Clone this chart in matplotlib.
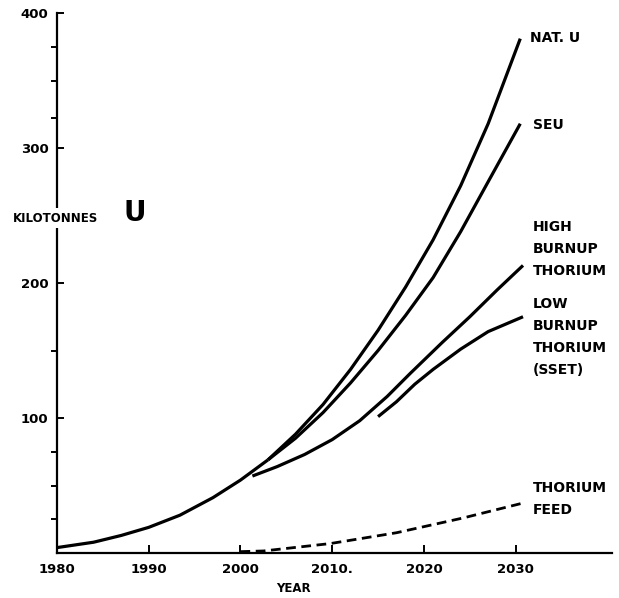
import matplotlib
matplotlib.use('Agg')
import matplotlib.pyplot as plt

# values (kilotonnes U per year)
common_years = [1980, 1984, 1987, 1990, 1993.4, 1997, 2000, 2003]
common_vals = [4, 8, 13, 19, 28, 41, 54, 69]

natu_years = [2003, 2006, 2009, 2012, 2015, 2018, 2021, 2024, 2027, 2030.5]
natu_vals = [69, 88, 110, 136, 165, 197, 232, 272, 318, 381]

seu_years = [2003, 2006, 2009, 2012, 2015, 2018, 2021, 2024, 2027, 2030.5]
seu_vals = [69, 85, 104, 126, 150, 176, 204, 238, 275, 318]

high_years = [2001.3, 2004, 2007, 2010, 2013, 2016, 2018.5, 2022, 2025, 2028, 2030.8]
high_vals = [57, 64, 73, 84, 98, 116, 133, 156, 175, 195, 213]

low_years = [2015, 2017, 2019, 2021, 2024, 2027, 2030.8]
low_vals = [101, 112, 125, 136, 151, 164, 175]

feed_years = [2000, 2002.5, 2009.8, 2017, 2024.3, 2030.8]
feed_vals = [1, 1.5, 7, 15, 26, 37]

x_ticks = [1980, 1990, 2000, 2010, 2020, 2030]
x_labels = ['1980', '1990', '2000', '2010.', '2020', '2030']
y_ticks = [100, 200, 300, 400]
y_minor = [25, 50, 75, 150, 322, 350, 375]

plt.rcParams['font.family'] = ['DejaVu Sans']
plt.rcParams['font.weight'] = 'bold'

W, H = 619, 598
fig = plt.figure(figsize=(W / 100, H / 100), dpi=100)
ax = fig.add_axes([57 / W, 1 - 553 / H, (612 - 57) / W, (553 - 13) / H])

lw = 2.3
ax.plot(common_years, common_vals, color='black', lw=lw, solid_capstyle='butt')
ax.plot(natu_years, natu_vals, color='black', lw=lw, solid_capstyle='butt')
ax.plot(seu_years, seu_vals, color='black', lw=lw, solid_capstyle='butt')
ax.plot(high_years, high_vals, color='black', lw=lw, solid_capstyle='butt')
ax.plot(low_years, low_vals, color='black', lw=lw, solid_capstyle='butt')
ax.plot(feed_years, feed_vals, color='black', lw=2.0, dashes=(3.5, 2.0))

ax.set_xlim(1980, 2040.5)
ax.set_ylim(0, 400)
ax.spines['top'].set_visible(False)
ax.spines['right'].set_visible(False)
ax.spines['left'].set_linewidth(1.6)
ax.spines['bottom'].set_linewidth(1.6)

ax.set_xticks(x_ticks)
ax.set_xticklabels(x_labels)
ax.set_yticks(y_ticks)
ax.set_yticks(y_minor, minor=True)
ax.tick_params(axis='x', direction='in', length=6, width=1.4, pad=7, labelsize=9.5)
ax.tick_params(axis='y', which='major', direction='in', length=5, width=1.4, pad=6, labelsize=9.5)
ax.yaxis.set_tick_params(which='minor', direction='out', length=4, width=1.4)
ax.xaxis.get_major_ticks()[0].tick1line.set_visible(False)

fig.text(293 / W, 1 - 588 / H, 'YEAR', fontsize=8.5, fontweight='bold',
         va='center', ha='center')

# y axis label sitting in a gap of the axis line
fig.text(13 / W, 1 - 218 / H, 'KILOTONNES', fontsize=8.5, fontweight='bold',
         va='center', ha='left',
         bbox=dict(facecolor='white', edgecolor='none', pad=2.5), zorder=5)
fig.text(124 / W, 1 - 213 / H, 'U', fontsize=20, fontweight='bold', va='center', ha='left')

# curve labels
fs = 10
ls = 1.75
fig.text(530 / W, 1 - 38 / H, 'NAT. U', fontsize=fs, va='center', ha='left')
fig.text(533 / W, 1 - 125 / H, 'SEU', fontsize=fs, va='center', ha='left')
fig.text(533 / W, 1 - 249 / H, 'HIGH\nBURNUP\nTHORIUM', fontsize=fs, va='center',
         ha='left', linespacing=ls)
fig.text(533 / W, 1 - 337 / H, 'LOW\nBURNUP\nTHORIUM\n(SSET)', fontsize=fs, va='center',
         ha='left', linespacing=ls)
fig.text(533 / W, 1 - 499 / H, 'THORIUM\nFEED', fontsize=fs, va='center', ha='left',
         linespacing=ls)

fig.savefig('out.png', dpi=100)
